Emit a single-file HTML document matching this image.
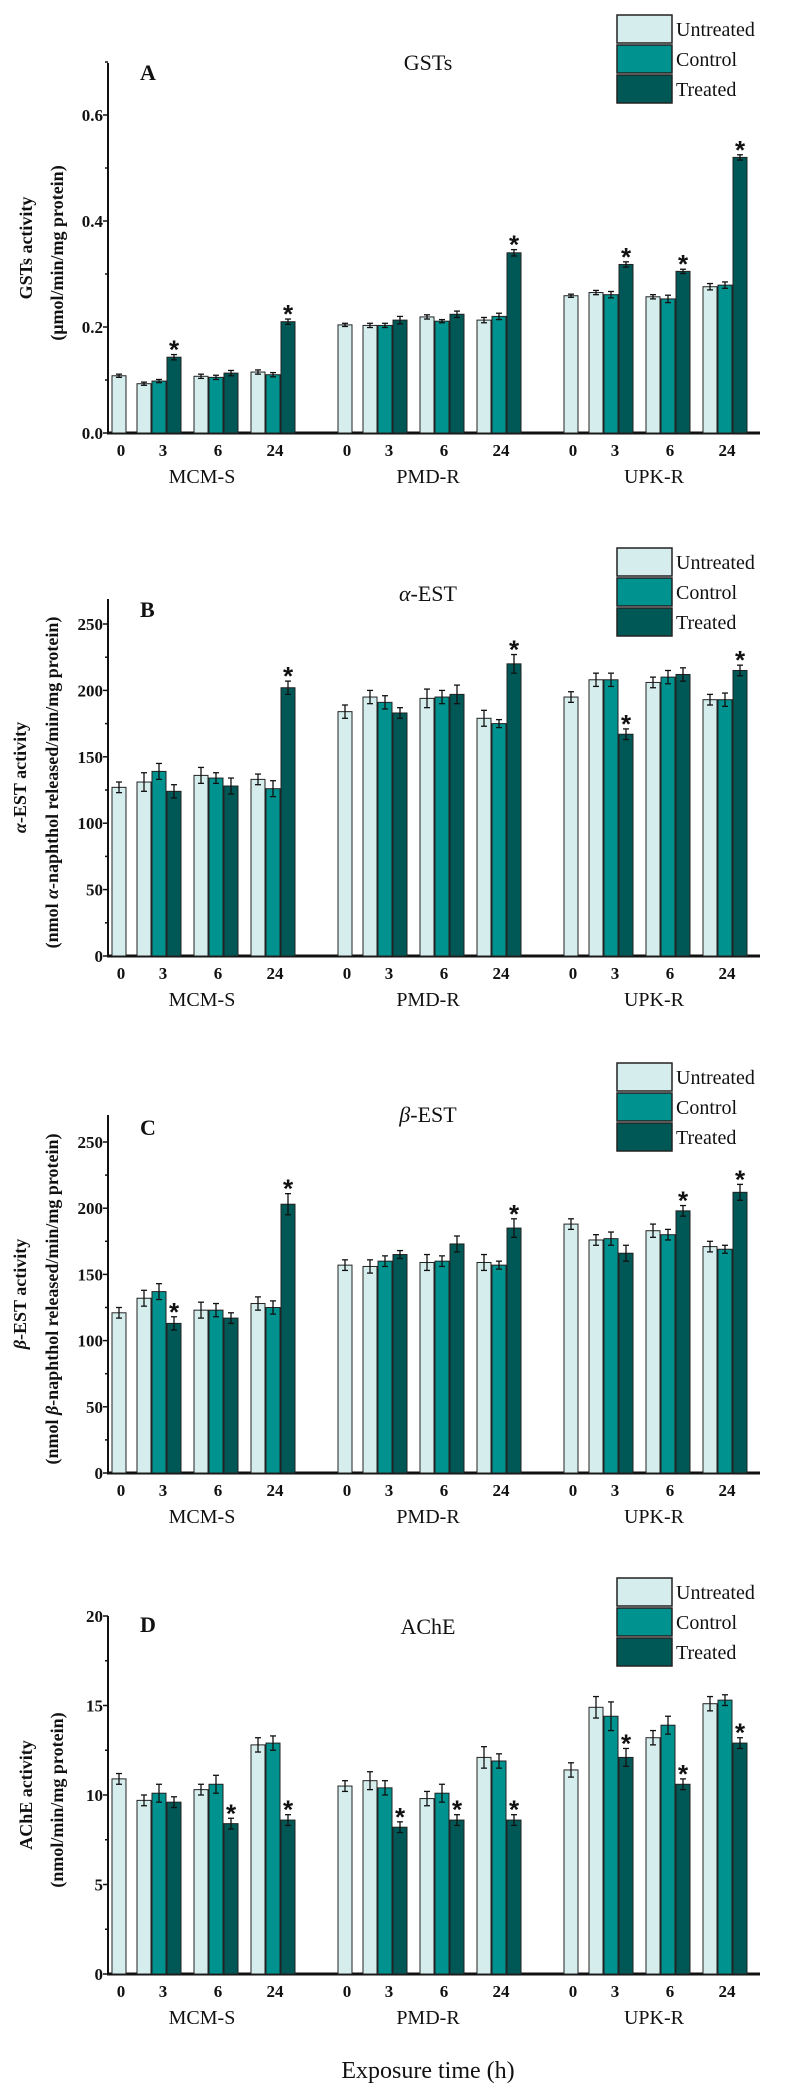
<!DOCTYPE html>
<html><head><meta charset="utf-8">
<style>
html,body{margin:0;padding:0;background:#fff;}
svg{display:block;font-family:"Liberation Serif",serif;}
</style></head>
<body>
<svg id="fig" width="789" height="2094" viewBox="0 0 789 2094" xmlns="http://www.w3.org/2000/svg"></svg>
<script>
// Order per strain: untreated [0h,3h,6h,24h]; control/treated [3h,6h,24h]; strains MCM-S, PMD-R, UPK-R
const strains = ["MCM-S","PMD-R","UPK-R"];
const times = ["0","3","6","24"];
const seriesNames = ["Untreated","Control","Treated"];

const gstUntreated = [0.108,0.093,0.107,0.115, 0.204,0.203,0.219,0.213, 0.259,0.265,0.257,0.276];
const gstControl   = [0.098,0.105,0.110, 0.203,0.211,0.220, 0.261,0.253,0.279];
const gstTreated   = [0.143,0.113,0.210, 0.213,0.224,0.340, 0.318,0.305,0.520];
const gstStars     = [1,0,1, 0,0,1, 1,1,1];
const gstErrU = [0.003,0.003,0.004,0.004, 0.003,0.004,0.004,0.005, 0.003,0.004,0.004,0.006];
const gstErrC = [0.003,0.004,0.004, 0.004,0.003,0.006, 0.006,0.007,0.006];
const gstErrT = [0.005,0.005,0.005, 0.007,0.006,0.006, 0.005,0.004,0.005];

const aUntreated = [127,131,136,133, 184,195,194,179, 195,208,206,193];
const aControl   = [139,134,126, 191,195,175, 208,210,193];
const aTreated   = [124,128,202, 183,197,220, 167,212,215];
const aStars     = [0,0,1, 0,0,1, 1,0,1];
const aErrU = [4,7,6,4, 5,5,7,6, 4,5,4,4];
const aErrC = [6,4,6, 5,5,3, 5,5,5];
const aErrT = [5,6,5, 4,7,7, 4,5,4];

const bUntreated = [121,132,123,128, 157,156,159,159, 188,176,183,171];
const bControl   = [137,123,125, 160,160,157, 177,180,169];
const bTreated   = [113,117,203, 165,173,185, 166,198,212];
const bStars     = [1,0,1, 0,0,1, 0,1,1];
const bErrU = [4,6,6,5, 4,5,6,6, 4,4,5,4];
const bErrC = [6,5,5, 4,4,3, 5,4,3];
const bErrT = [5,4,8, 3,6,7, 6,4,6];

const dUntreated = [10.9,9.7,10.3,12.8, 10.5,10.8,9.8,12.1, 11.4,14.9,13.2,15.1];
const dControl   = [10.1,10.6,12.9, 10.4,10.1,11.9, 14.4,13.9,15.3];
const dTreated   = [9.6,8.4,8.6, 8.2,8.6,8.6, 12.1,10.6,12.9];
const dStars     = [0,1,1, 1,1,1, 1,1,1];
const dErrU = [0.3,0.3,0.3,0.4, 0.3,0.5,0.4,0.6, 0.4,0.6,0.4,0.4];
const dErrC = [0.5,0.5,0.4, 0.4,0.5,0.4, 0.8,0.5,0.3];
const dErrT = [0.3,0.3,0.3, 0.3,0.3,0.3, 0.5,0.3,0.3];

const NS="http://www.w3.org/2000/svg";
const svg=document.getElementById('fig');
const COLORS=["#d5eded","#00928e","#005856"];
function mk(tag,attrs,parent){const e=document.createElementNS(NS,tag);for(const k in attrs)e.setAttribute(k,attrs[k]);(parent||svg).appendChild(e);return e;}

const groupOffset=226;
function xCenter(s,t,k){
  const base=s*groupOffset;
  if(t===0) return base+119;
  const starts=[0,144,201,258];
  return base+starts[t]+15*k;
}

const panels=[
 {id:"a",letter:"A",title:"GSTs",top:63,y0:433,max:0.7,step:0.2,minor:0.1,dec:1,
  t1:"GSTs activity",t2:"(μmol/min/mg protein)",legTop:15,titleY:70,letterY:80,
  U:gstUntreated,C:gstControl,T:gstTreated,S:gstStars,EU:gstErrU,EC:gstErrC,ET:gstErrT,ax1:32,ax2:63},
 {id:"b",letter:"B",title:"-EST",greek:"α",top:599,y0:956,max:270,step:50,minor:25,dec:0,
  t1:"-EST activity",t2:"-naphthol released/min/mg protein)",legTop:548,titleY:601,letterY:617,
  U:aUntreated,C:aControl,T:aTreated,S:aStars,EU:aErrU,EC:aErrC,ET:aErrT,ax1:26,ax2:58},
 {id:"c",letter:"C",title:"-EST",greek:"β",top:1115,y0:1473,max:270,step:50,minor:25,dec:0,
  t1:"-EST activity",t2:"-naphthol released/min/mg protein)",legTop:1063,titleY:1122,letterY:1135,
  U:bUntreated,C:bControl,T:bTreated,S:bStars,EU:bErrU,EC:bErrC,ET:bErrT,ax1:26,ax2:58},
 {id:"d",letter:"D",title:"AChE",top:1616,y0:1974,max:20,step:5,minor:2.5,dec:0,
  t1:"AChE activity",t2:"(nmol/min/mg protein)",legTop:1578,titleY:1634,letterY:1632,
  U:dUntreated,C:dControl,T:dTreated,S:dStars,EU:dErrU,EC:dErrC,ET:dErrT,ax1:32,ax2:63}
];

panels.forEach(p=>{
  const g=mk('g',{});
  
  
  const maxV=p.max;
  const ppu=p.id==="a"?530:(p.id==="d"?17.9:(p.y0-(p.id==="b"?624:1142))/250);
  const y=v=>p.y0-v*ppu;
  const top=p.id==="d"?y(20):p.top;
  const yax=mk('line',{x1:108,y1:top,x2:108,y2:p.y0,stroke:"#111","stroke-width":2},g);
  
  const xax=mk('line',{x1:107,y1:p.y0,x2:760,y2:p.y0,stroke:"#111","stroke-width":3},g);
  
  for(let v=0;v<=maxV+1e-9;v+=p.minor){
    const isMajor=Math.abs(v/p.step-Math.round(v/p.step))<1e-6;
    mk('line',{x1:isMajor?103:105,y1:y(v),x2:108,y2:y(v),stroke:"#111","stroke-width":1.5},g);
    if(isMajor){
      const t=mk('text',{x:103,y:y(v)+6,"text-anchor":"end","font-size":17,"font-weight":"bold",fill:"#111"},g);
      t.textContent=v.toFixed(p.dec);
      
    }
  }
  const cy=(top+p.y0)/2;
  const t1=mk('text',{x:p.ax1,y:cy,"text-anchor":"middle","font-size":18,"font-weight":"bold",fill:"#111",transform:`rotate(-90 ${p.ax1} ${cy})`},g);
  if(p.greek){const ts=mk('tspan',{"font-style":"italic"},t1);ts.textContent=p.greek;const r=mk('tspan',{},t1);r.textContent=p.t1;}
  else t1.textContent=p.t1;
  
  const t2=mk('text',{x:p.ax2,y:cy+5,"text-anchor":"middle","font-size":18,"font-weight":"bold",fill:"#111",transform:`rotate(-90 ${p.ax2} ${cy+5})`},g);
  if(p.greek){const a=mk('tspan',{},t2);a.textContent="(nmol ";const ts=mk('tspan',{"font-style":"italic"},t2);ts.textContent=p.greek;const r=mk('tspan',{},t2);r.textContent=p.t2;}
  else t2.textContent=p.t2;
  
  const L=mk('text',{x:140,y:p.letterY,"font-size":22,"font-weight":"bold",fill:"#111"},g);
  L.textContent=p.letter;
  const T=mk('text',{x:428,y:p.titleY,"text-anchor":"middle","font-size":22,fill:"#111"},g);
  if(p.greek){const ts=mk('tspan',{"font-style":"italic"},T);ts.textContent=p.greek;const r=mk('tspan',{},T);r.textContent=p.title;}
  else T.textContent=p.title;
  
  seriesNames.forEach((n,i)=>{
    const r=mk('rect',{x:617,y:p.legTop+i*30,width:55,height:28,fill:COLORS[i],stroke:"#222","stroke-width":1.5},g);
    
    const t=mk('text',{x:676,y:p.legTop+i*30+21,"font-size":20,fill:"#111"},g);
    t.textContent=n;
  });
  function bar(xc,v,e,k,star){
    const r=mk('rect',{x:xc-7,y:y(v),width:14,height:p.y0-y(v),fill:COLORS[k],stroke:"#222","stroke-width":1},g);
    
    
    const ey1=y(v+e),ey2=y(v-e);
    mk('line',{x1:xc,y1:ey1,x2:xc,y2:ey2,stroke:"#111","stroke-width":1.3},g);
    mk('line',{x1:xc-3,y1:ey1,x2:xc+3,y2:ey1,stroke:"#111","stroke-width":1.3},g);
    mk('line',{x1:xc-3,y1:ey2,x2:xc+3,y2:ey2,stroke:"#111","stroke-width":1.3},g);
    if(star){
      const s=mk('text',{x:xc,y:ey1+4,"text-anchor":"middle","font-size":26,"font-weight":"bold","font-family":"Liberation Sans, sans-serif",fill:"#111"},g);
      s.textContent="*";
    }
  }
  for(let s=0;s<3;s++){
    for(let t=0;t<4;t++){
      bar(xCenter(s,t,0),p.U[s*4+t],p.EU[s*4+t],0,false);
      if(t>0){
        const j=s*3+t-1;
        bar(xCenter(s,t,1),p.C[j],p.EC[j],1,false);
        bar(xCenter(s,t,2),p.T[j],p.ET[j],2,p.S[j]);
      }
      const lx=t===0?xCenter(s,0,0)+2:xCenter(s,t,1)+ (t===1?4:2);
      const tl=mk('text',{x:lx,y:p.y0+23,"text-anchor":"middle","font-size":17,"font-weight":"bold",fill:"#111"},g);
      tl.textContent=times[t];
    }
    const gl=mk('text',{x:202+s*groupOffset,y:p.y0+50,"text-anchor":"middle","font-size":20,fill:"#111"},g);
    gl.textContent=strains[s];
  }
});
const xt=mk('text',{x:428,y:2078,"text-anchor":"middle","font-size":24,fill:"#111"});
xt.textContent="Exposure time (h)";


</script>
</body></html>
